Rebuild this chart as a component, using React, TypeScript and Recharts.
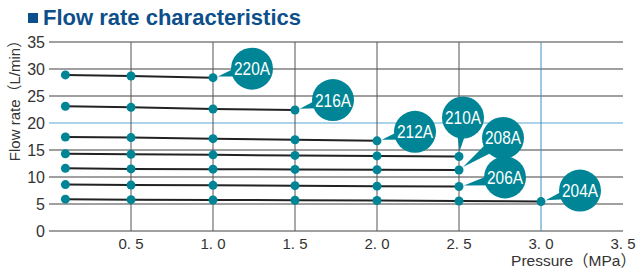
import React from "react";
import { LineChart, Line, XAxis, YAxis, ReferenceLine } from "recharts";

// Pressure (MPa) of each measured point
const pressure = [0.1, 0.5, 1.0, 1.5, 2.0, 2.5, 3.0];

// Flow rate (L/min) per model
const flow220A = [28.9, 28.7, 28.4];
const flow216A = [23.1, 22.9, 22.6, 22.4];
const flow212A = [17.4, 17.3, 17.1, 16.9, 16.7];
const flow210A = [14.3, 14.2, 14.1, 14.0, 13.9, 13.8];
const flow208A = [11.6, 11.5, 11.45, 11.4, 11.35, 11.3];
const flow206A = [8.6, 8.5, 8.45, 8.4, 8.3, 8.25];
const flow204A = [5.9, 5.8, 5.75, 5.7, 5.65, 5.55, 5.45];

const seriesNames = ["220A", "216A", "212A", "210A", "208A", "206A", "204A"];
const seriesValues = [flow220A, flow216A, flow212A, flow210A, flow208A, flow206A, flow204A];

const xTicks = [0.5, 1.0, 1.5, 2.0, 2.5, 3.0, 3.5];
const yTicks = [0, 5, 10, 15, 20, 25, 30, 35];

// where each callout bubble sits, relative to the last point
const calloutOffset: Record<string, [number, number]> = {
  "220A": [39, -9],
  "216A": [38, -10],
  "212A": [38, -9],
  "210A": [4, -39],
  "208A": [44, -32],
  "206A": [46, -9],
  "204A": [39, -11],
};

const TEAL = "#008596";
const TITLE_BLUE = "#0d4f8b";
const FONT = "'Liberation Sans', Arial, 'Noto Sans CJK JP', sans-serif";

function Callout({ x, y, name }: { x: number; y: number; name: string }) {
  const [dx, dy] = calloutOffset[name];
  const cx = x + dx;
  const cy = y + dy;
  const len = Math.hypot(dx, dy);
  const ux = dx / len;
  const uy = dy / len;
  const ax = x + ux * 5;
  const ay = y + uy * 5;
  const w = 8;
  const pts = `${ax},${ay} ${cx - uy * w},${cy + ux * w} ${cx + uy * w},${cy - ux * w}`;
  return (
    <g>
      <polygon points={pts} fill={TEAL} />
      <circle cx={cx} cy={cy} r={21} fill={TEAL} />
      <text
        x={cx}
        y={cy + 6.5}
        textAnchor="middle"
        fill="#fff"
        fontSize={18.5}
        fontFamily={FONT}
        textLength={36}
        lengthAdjust="spacingAndGlyphs"
      >
        {name}
      </text>
    </g>
  );
}

export default function App() {
  const series = seriesNames.map((name, i) => ({
    name,
    data: seriesValues[i].map((v, j) => ({ x: pressure[j], y: v })),
  }));

  return (
    <div style={{ position: "absolute", left: 0, top: 0, width: 638, height: 270, background: "#fff" }}>
      <LineChart width={638} height={270} margin={{ top: 42, right: 15, bottom: 19, left: 10 }}>
        <XAxis
          type="number"
          dataKey="x"
          domain={[0, 3.5]}
          ticks={xTicks}
          axisLine={false}
          tickLine={false}
          tickSize={0}
          tickMargin={7}
          height={20}
          allowDataOverflow
          tick={{ fill: "#333", fontSize: 15, fontFamily: FONT }}
          tickFormatter={(v: number) => v.toFixed(1).replace(".", ". ")}
        />
        <YAxis
          type="number"
          dataKey="y"
          domain={[0, 35]}
          ticks={yTicks}
          axisLine={false}
          tickLine={false}
          tickSize={0}
          tickMargin={4}
          width={39}
          tick={{ fill: "#333", fontSize: 16, fontFamily: FONT }}
        />
        {yTicks.map((t) => (
          <ReferenceLine
            key={"h" + t}
            y={t}
            stroke={t === 20 ? "#8fc4e2" : "#a0a0a0"}
            strokeWidth={t === 20 ? 1.5 : 2}
          />
        ))}
        {xTicks
          .filter((t) => t < 3.5)
          .map((t) => (
            <ReferenceLine
              key={"v" + t}
              x={t}
              stroke={t === 3.0 ? "#3f8fc0" : "#555"}
              strokeWidth={1}
            />
          ))}
        {series.map((s) => (
          <Line
            key={s.name}
            data={s.data}
            dataKey="y"
            type="linear"
            stroke="#222"
            strokeWidth={2}
            dot={{ r: 4.5, fill: TEAL, stroke: TEAL, strokeWidth: 0 }}
            isAnimationActive={false}
            label={(p: any) =>
              p.index === s.data.length - 1 ? (
                <Callout key={s.name + "c"} x={p.x} y={p.y} name={s.name} />
              ) : (
                <g key={s.name + p.index} />
              )
            }
          />
        ))}
      </LineChart>
      <svg
        width={638}
        height={270}
        style={{ position: "absolute", left: 0, top: 0, pointerEvents: "none" }}
      >
        <rect x={28} y={13} width={10} height={10} fill={TITLE_BLUE} />
        <text x={43} y={25} fontSize={22} fontWeight="bold" fill={TITLE_BLUE} fontFamily={FONT}>
          Flow rate characteristics
        </text>
        <text
          transform="translate(20,97) rotate(-90)"
          textAnchor="middle"
          fontSize={15}
          fill="#333"
          fontFamily={FONT}
        >
          Flow rate（L/min）
        </text>
        <text x={636} y={266} textAnchor="end" fontSize={15.5} fill="#333" fontFamily={FONT}>
          Pressure（MPa）
        </text>
      </svg>
    </div>
  );
}
